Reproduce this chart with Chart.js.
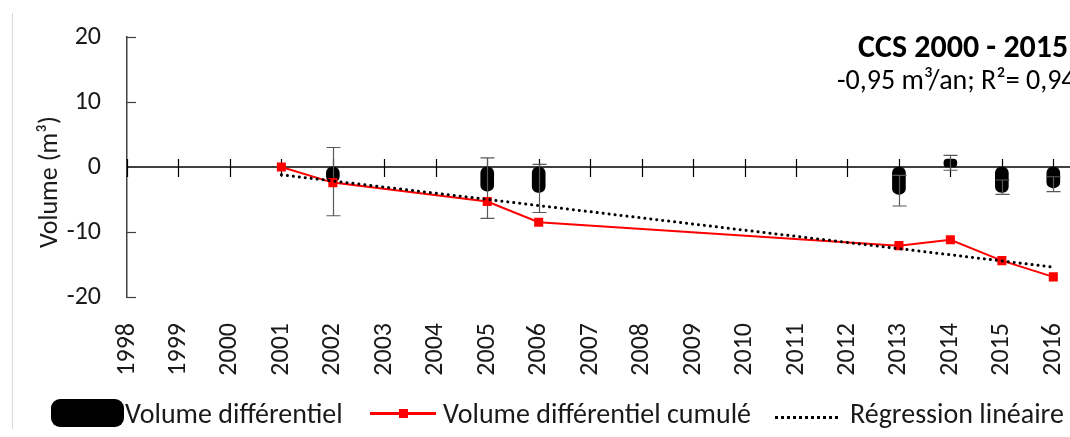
<!DOCTYPE html>
<html>
<head>
<meta charset="utf-8">
<script src="https://cdn.jsdelivr.net/npm/chart.js@4.4.1/dist/chart.umd.min.js"></script>
<style>
html,body{margin:0;padding:0;background:#fff;overflow:hidden}
#wrap{position:relative;width:1070px;height:437px;font-family:Carlito,Lato,sans-serif;color:#1a1a1a}
#frame{position:absolute;left:12px;top:13px;height:416px;border-left:1px solid #d9d9d9}
#c{position:absolute;left:0;top:0}
.item{position:absolute;top:398px;height:30px;display:flex;align-items:center;font-size:28px;white-space:nowrap}
.sw-bar{display:inline-block;width:73px;height:28px;background:#000;border-radius:9px}
.sw-line{display:inline-block;width:66px;height:3px;background:#f00;position:relative}
.sw-line::after{content:"";position:absolute;left:29px;top:-3px;width:9px;height:9px;background:#f00}
.sw-dot{display:inline-block;width:63px;height:0;border-top:3px dotted #000;margin-top:8px}
</style>
</head>
<body>
<div id="wrap">
  <div id="frame"></div>
  <canvas id="c" width="1070" height="437"></canvas>
  <div class="item" style="left:51px"><span class="sw-bar"></span><span style="margin-left:1px">Volume différentiel</span></div>
  <div class="item" style="left:370px"><span class="sw-line"></span><span style="margin-left:7px">Volume différentiel cumulé</span></div>
  <div class="item" style="left:775px"><span class="sw-dot"></span><span style="margin-left:12px">Régression linéaire</span></div>
</div>
<script>
const years=[1998,1999,2000,2001,2002,2003,2004,2005,2006,2007,2008,2009,2010,2011,2012,2013,2014,2015,2016];
const yTicks=[-20,-10,0,10,20];

const cumulYears=[2001,2002,2005,2006,2013,2014,2015,2016];
const cumulValues=[0,-2.4,-5.3,-8.5,-12.1,-11.2,-14.4,-16.9];

const diffYears=[2002,2005,2006,2013,2014,2015,2016];
const diffValues=[-2.3,-3.7,-3.9,-4.2,1.2,-3.9,-3.2];
const errHigh=[3.0,1.4,0.4,-1.3,1.8,-2.0,-1.5];
const errLow=[-7.5,-7.9,-7.0,-6.0,-0.5,-4.2,-3.8];

const regYears=[2001,2016];
const regValues=[-1.2,-15.4];

const FONT='Carlito, Lato, sans-serif';
const pts=(xs,ys)=>xs.map((x,i)=>({x,y:ys[i]}));

// zero line with year ticks, inner ticks on the y axis
const axisDecor={
    id:'axisDecor',
    beforeDatasetsDraw(chart){
        const {ctx,chartArea:a,scales:{x,y}}=chart;
        const y0=y.getPixelForValue(0);
        ctx.save();
        ctx.strokeStyle='#000';ctx.lineWidth=1.5;
        ctx.beginPath();ctx.moveTo(a.left,y0);ctx.lineTo(a.right+20,y0);ctx.stroke();
        ctx.lineWidth=1.2;
        years.forEach(yr=>{
            const px=Math.round(x.getPixelForValue(yr))+0.5;
            ctx.beginPath();ctx.moveTo(px,y0-8);ctx.lineTo(px,y0+10);ctx.stroke();
        });
        ctx.strokeStyle='#404040';
        yTicks.filter(v=>v!==0).forEach(v=>{
            const py=Math.round(y.getPixelForValue(v))+0.5;
            ctx.beginPath();ctx.moveTo(a.left,py);ctx.lineTo(a.left+9,py);ctx.stroke();
        });
        ctx.restore();
    }
};

// error bars over the differential bars
const errorBars={
    id:'errorBars',
    afterDatasetDraw(chart,args){
        if(args.meta.type!=='bar') return;
        const {ctx,scales:{x,y}}=chart;
        ctx.save();
        ctx.strokeStyle='#595959';ctx.lineWidth=1.2;
        diffYears.forEach((yr,i)=>{
            const px=Math.round(x.getPixelForValue(yr))+0.5;
            const hi=y.getPixelForValue(errHigh[i]), lo=y.getPixelForValue(errLow[i]);
            ctx.beginPath();
            ctx.moveTo(px,hi);ctx.lineTo(px,lo);
            ctx.moveTo(px-7,hi);ctx.lineTo(px+7,hi);
            ctx.moveTo(px-7,lo);ctx.lineTo(px+7,lo);
            ctx.stroke();
        });
        ctx.restore();
    }
};

const texts={
    id:'texts',
    afterDraw(chart){
        const {ctx}=chart;
        ctx.save();
        ctx.fillStyle='#1a1a1a';
        ctx.font='26px '+FONT;
        ctx.translate(50,182);ctx.rotate(-Math.PI/2);
        ctx.textAlign='center';ctx.textBaseline='middle';
        ctx.fillText('Volume (m³)',0,0);
        ctx.restore();
        ctx.save();
        ctx.fillStyle='#000';
        ctx.textAlign='left';ctx.textBaseline='alphabetic';
        ctx.font='bold 32px '+FONT;
        ctx.fillText('CCS 2000 - 2015',858,57);
        ctx.font='28px '+FONT;
        ctx.fillText('-0,95 m³/an; R²= 0,94',837,89);
        ctx.restore();
    }
};

new Chart(document.getElementById('c'),{
    type:'line',
    data:{datasets:[
        {type:'bar',label:'Volume différentiel',data:pts(diffYears,diffValues),backgroundColor:'#000',
         barThickness:13,borderRadius:6,borderSkipped:false,order:2},
        {type:'line',label:'Volume différentiel cumulé',data:pts(cumulYears,cumulValues),borderColor:'#ff0000',
         borderWidth:2,pointStyle:'rect',pointRadius:6.4,pointBackgroundColor:'#ff0000',pointBorderWidth:0,tension:0,order:1},
        {type:'line',label:'Régression linéaire',data:pts(regYears,regValues),borderColor:'#000',borderWidth:3,
         borderDash:[0.1,5.9],borderCapStyle:'round',pointRadius:0,order:0}
    ]},
    options:{
        responsive:false,animation:false,
        layout:{padding:{top:37,right:0,left:0,bottom:0}},
        plugins:{legend:{display:false},tooltip:{enabled:false}},
        scales:{
            x:{type:'linear',min:1998,max:2016.2,offset:false,
               grid:{display:false},border:{display:false},
               ticks:{stepSize:1,includeBounds:false,autoSkip:false,maxRotation:90,minRotation:90,padding:18,
                      color:'#1a1a1a',font:{family:FONT,size:26},callback:v=>String(v)},
               afterFit:s=>{s.height=140;s.paddingLeft=0;s.paddingRight=0}},
            y:{min:-20,max:20,
               grid:{display:false,drawTicks:false},border:{display:true,color:'#404040',width:1.5},
               ticks:{stepSize:10,padding:26,color:'#1a1a1a',font:{family:FONT,size:26}},
               afterFit:s=>{s.width=127;s.paddingTop=0;s.paddingBottom=0}}
        }
    },
    plugins:[axisDecor,errorBars,texts]
});
</script>
</body>
</html>
